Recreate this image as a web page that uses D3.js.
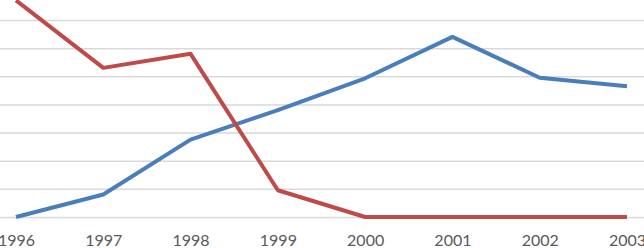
<!DOCTYPE html>
<html>
<head>
<meta charset="utf-8">
<script src="https://cdn.jsdelivr.net/npm/d3@7"></script>
<style>
  html, body { margin: 0; padding: 0; background: #fff; }
  svg { display: block; }
  .axis-x text { font-family: Lato, "Open Sans", sans-serif; font-size: 16px; fill: #595959; }
</style>
</head>
<body>
<div id="chart"></div>
<script>
const years = ["1996", "1997", "1998", "1999", "2000", "2001", "2002", "2003"];
const blueValues = [0, 0.8, 2.75, 3.8, 4.93, 6.4, 4.95, 4.65];
const redValues = [7.7, 5.3, 5.8, 0.95, 0, 0, 0, 0];
const yTicks = [0, 1, 2, 3, 4, 5, 6, 7, 8];

const width = 644;
const height = 248;

const x = d3.scalePoint().domain(years).range([16, 627]);
const y = d3.scaleLinear().domain([0, 8]).range([217, -8.1]);

const svg = d3
  .select("#chart")
  .append("svg")
  .attr("width", width)
  .attr("height", height)
  .attr("viewBox", [0, 0, width, height]);

// horizontal gridlines
svg
  .append("g")
  .attr("class", "grid-g")
  .call(d3.axisLeft(y).tickValues(yTicks).tickSize(-width).tickFormat(""))
  .call((g) => g.select(".domain").remove())
  .call((g) =>
    g
      .selectAll(".tick line")
      .attr("stroke", "#d9d9d9")
      .attr("stroke-width", 1.5)
  );

// year labels
svg
  .append("g")
  .attr("class", "axis axis-x")
  .attr("transform", `translate(0,${y(0)})`)
  .call(d3.axisBottom(x).tickSize(0).tickPadding(18))
  .call((g) => g.select(".domain").remove());

const line = d3
  .line()
  .x((d, i) => x(years[i]))
  .y((d) => y(d));

svg
  .selectAll(".series")
  .data([
    { values: blueValues, color: "#4a7ebb" },
    { values: redValues, color: "#be4b48" },
  ])
  .join("path")
  .attr("class", "series")
  .attr("fill", "none")
  .attr("stroke", (d) => d.color)
  .attr("stroke-width", 4)
  .attr("stroke-linejoin", "round")
  .attr("d", (d) => line(d.values));
</script>
</body>
</html>
